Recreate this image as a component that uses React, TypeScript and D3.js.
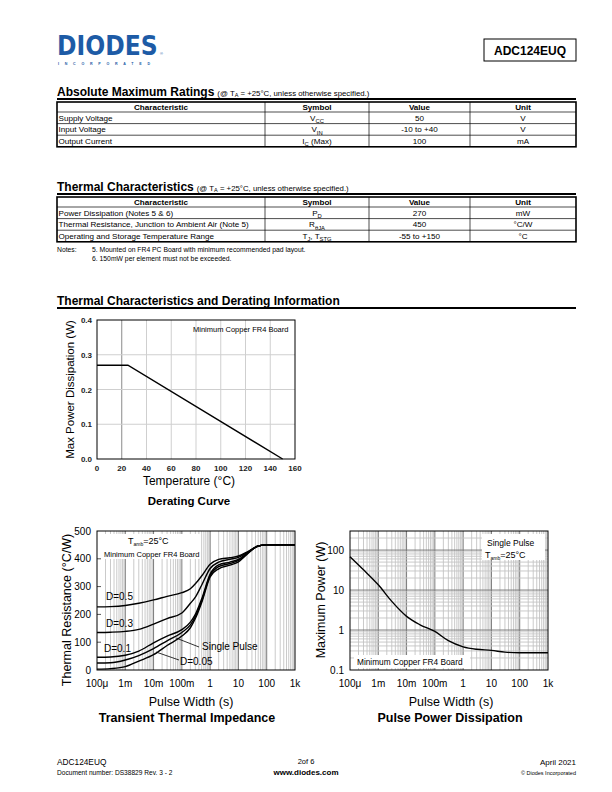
import React from 'react';
import * as d3 from 'd3';

const F = "'Liberation Sans', Arial, Helvetica, sans-serif";

type Seg = [string, boolean];

// ---------- Tables ----------
const tableHeaders = ['Characteristic', 'Symbol', 'Value', 'Unit'];
const absCharacteristics = ['Supply Voltage', 'Input Voltage', 'Output Current'];
const absSymbols: Seg[][] = [
  [['V', false], ['CC', true]],
  [['V', false], ['IN', true]],
  [['I', false], ['C', true], [' (Max)', false]],
];
const absValues = ['50', '-10 to +40', '100'];
const absUnits = ['V', 'V', 'mA'];

const thCharacteristics = [
  'Power Dissipation (Notes 5 & 6)',
  'Thermal Resistance, Junction to Ambient Air (Note 5)',
  'Operating and Storage Temperature Range',
];
const thSymbols: Seg[][] = [
  [['P', false], ['D', true]],
  [['R', false], ['θJA', true]],
  [['T', false], ['J', true], [', T', false], ['STG', true]],
];
const thValues = ['270', '450', '-55 to +150'];
const thUnits = ['mW', '°C/W', '°C'];

// ---------- Derating curve ----------
const deratingTemp = [0, 25, 150];
const deratingPower = [0.27, 0.27, 0];
const deratingXTicks = [0, 20, 40, 60, 80, 100, 120, 140, 160];
const deratingYTicks = [0, 0.1, 0.2, 0.3, 0.4];

// ---------- Transient thermal impedance ----------
const pulseWidths = [1e-4, 3e-4, 1e-3, 3e-3, 1e-2, 3e-2, 0.1, 0.2, 0.3, 0.5, 1, 2, 5, 10, 20, 50, 100, 1000];
const zthD05 = [227, 228, 232, 240, 252, 265, 278, 292, 310, 338, 380, 398, 404, 410, 424, 446, 450, 450];
const zthD03 = [135, 136, 139, 146, 165, 185, 205, 240, 262, 305, 365, 388, 398, 405, 422, 446, 450, 450];
const zthD01 = [46, 47, 53, 68, 98, 122, 145, 172, 200, 255, 345, 378, 388, 398, 420, 446, 450, 450];
const zthD005 = [25, 26, 36, 52, 77, 105, 135, 162, 192, 248, 340, 372, 383, 394, 418, 446, 450, 450];
const zthSingle = [3, 5, 12, 32, 55, 88, 122, 152, 185, 242, 335, 364, 377, 389, 416, 446, 450, 450];
const zthTicks = [0, 100, 200, 300, 400, 500];

const timeTickValues = [1e-4, 1e-3, 1e-2, 1e-1, 1, 10, 100, 1000];
const timeTickLabels = ['100μ', '1m', '10m', '100m', '1', '10', '100', '1k'];

// ---------- Pulse power dissipation ----------
const ppTimes = [1e-4, 3e-4, 1e-3, 3e-3, 1e-2, 3e-2, 0.1, 0.3, 1, 3, 10, 30, 100, 1000];
const ppPower = [68, 32, 13.5, 5.2, 2.2, 1.35, 0.92, 0.54, 0.38, 0.33, 0.31, 0.28, 0.27, 0.27];
const ppYTicks = [0.1, 1, 10, 100];
const ppYTickLabels = ['0.1', '1', '10', '100'];

// ---------- helpers ----------
function segText(s: Seg[], size: number) {
  let shifted = false;
  return s.map(([t, sub], i) => {
    let dy = 0;
    if (sub && !shifted) dy = size * 0.28;
    if (!sub && shifted) dy = -size * 0.28;
    shifted = sub;
    return (
      <tspan key={i} dy={dy} fontSize={sub ? size * 0.72 : size}>
        {t}
      </tspan>
    );
  });
}

function logMinors(lo: number, hi: number): number[] {
  const out: number[] = [];
  const e0 = Math.round(Math.log10(lo));
  const e1 = Math.round(Math.log10(hi));
  for (let e = e0; e < e1; e++) {
    for (let k = 2; k <= 9; k++) {
      const v = k * Math.pow(10, e);
      if (v > lo && v < hi) out.push(v);
    }
  }
  return out;
}

const colX = [57, 265, 369, 470, 576];

function Table({ top, chars, syms, vals, units }: { top: number; chars: string[]; syms: Seg[][]; vals: string[]; units: string[] }) {
  const hh = 10;
  const rh = 11.6;
  const bottom = top + hh + rh * chars.length;
  const fs = 8.1;
  const cx = (i: number) => (colX[i] + colX[i + 1]) / 2;
  return (
    <g fontFamily={F} fontSize={fs}>
      {tableHeaders.map((h, i) => (
        <text key={h} x={cx(i)} y={top + hh / 2 + 2.9} textAnchor="middle" fontWeight="bold">
          {h}
        </text>
      ))}
      {chars.map((c, r) => {
        const yc = top + hh + rh * r + rh / 2 + 2.9;
        return (
          <g key={c}>
            <text x={colX[0] + 1.5} y={yc}>{c}</text>
            <text x={cx(1)} y={yc} textAnchor="middle">{segText(syms[r], fs)}</text>
            <text x={cx(2)} y={yc} textAnchor="middle">{vals[r]}</text>
            <text x={cx(3)} y={yc} textAnchor="middle">{units[r]}</text>
          </g>
        );
      })}
      {chars.map((c, r) => (
        <line key={'h' + r} x1={colX[0]} x2={colX[4]} y1={top + hh + rh * r} y2={top + hh + rh * r} stroke="#000" strokeWidth={0.7} />
      ))}
      {colX.slice(1, 4).map((x) => (
        <line key={'v' + x} x1={x} x2={x} y1={top} y2={bottom} stroke="#000" strokeWidth={0.7} />
      ))}
      <rect x={colX[0]} y={top} width={colX[4] - colX[0]} height={bottom - top} fill="none" stroke="#000" strokeWidth={1.6} />
    </g>
  );
}

function SectionTitle({ y, title, sub }: { y: number; title: string; sub?: boolean }) {
  return (
    <g fontFamily={F}>
      <text x={57} y={y} fontSize={12} fontWeight="bold">
        {title}
        {sub && (
          <tspan fontSize={7.8} fontWeight="normal" dx={3}>
            (@ T<tspan fontSize={5.5} dy={1.5}>A</tspan>
            <tspan dy={-1.5}> = +25°C, unless otherwise specified.)</tspan>
          </tspan>
        )}
      </text>
      <line x1={57} x2={576} y1={y + 3.5} y2={y + 3.5} stroke="#000" strokeWidth={2.2} />
    </g>
  );
}

function Derating() {
  const L = 97, R = 295, T = 320, B = 459;
  const x = d3.scaleLinear().domain([0, 160]).range([L, R]);
  const y = d3.scaleLinear().domain([0, 0.4]).range([B, T]);
  const line = d3.line<number>().x((d, i) => x(deratingTemp[i])).y((d) => y(d));
  return (
    <g fontFamily={F}>
      {deratingXTicks.slice(1, -1).map((t) => (
        <line key={'gx' + t} x1={x(t)} x2={x(t)} y1={T} y2={B} stroke={t === 20 ? '#8a8a8a' : '#cfcfcf'} strokeWidth={1} />
      ))}
      {deratingYTicks.slice(1, -1).map((t) => (
        <line key={'gy' + t} x1={L} x2={R} y1={y(t)} y2={y(t)} stroke="#cfcfcf" strokeWidth={1} />
      ))}
      <rect x={L} y={T} width={R - L} height={B - T} fill="none" stroke="#000" strokeWidth={1} />
      <path d={line(deratingPower) || ''} fill="none" stroke="#000" strokeWidth={1.4} />
      {deratingXTicks.map((t) => (
        <text key={'tx' + t} x={x(t)} y={B + 12} textAnchor="middle" fontSize={8} fontWeight="bold" fill="#222">
          {t}
        </text>
      ))}
      {deratingYTicks.map((t) => (
        <text key={'ty' + t} x={L - 5} y={y(t) + 3} textAnchor="end" fontSize={8} fontWeight="bold" fill="#222">
          {t.toFixed(1)}
        </text>
      ))}
      <text x={193} y={332} fontSize={7.5}>Minimum Copper FR4 Board</text>
      <text transform={`translate(74,${(T + B) / 2}) rotate(-90)`} textAnchor="middle" fontSize={11.5}>
        Max Power Dissipation (W)
      </text>
      <text x={(L + R) / 2 - 7} y={485} textAnchor="middle" fontSize={12}>Temperature (°C)</text>
      <text x={189} y={505} textAnchor="middle" fontSize={11.5} fontWeight="bold">Derating Curve</text>
    </g>
  );
}

function VGrid({ x, T, B }: { x: d3.ScaleLogarithmic<number, number>; T: number; B: number }) {
  const minors = logMinors(1e-4, 1e3);
  return (
    <g>
      {minors.map((v, i) => (
        <line key={'m' + i} x1={x(v)} x2={x(v)} y1={T} y2={B} stroke="#c4c4c4" strokeWidth={0.9} />
      ))}
      {timeTickValues.slice(1, -1).map((v, i) => (
        <line key={'M' + i} x1={x(v)} x2={x(v)} y1={T} y2={B} stroke="#7a7a7a" strokeWidth={1} />
      ))}
    </g>
  );
}

function Transient() {
  const L = 97, R = 295, T = 531, B = 670;
  const x = d3.scaleLog().domain([1e-4, 1e3]).range([L, R]);
  const y = d3.scaleLinear().domain([0, 500]).range([B, T]);
  const mk = (vals: number[]) =>
    d3.line<number>().x((d, i) => x(pulseWidths[i])).y((d) => y(d)).curve(d3.curveMonotoneX)(vals) || '';
  const series = [zthD05, zthD03, zthD01, zthD005, zthSingle];
  return (
    <g fontFamily={F}>
      <VGrid x={x} T={T} B={B} />
      {zthTicks.slice(1, -1).map((t) => (
        <line key={'tk' + t} x1={L} x2={L + 4} y1={y(t)} y2={y(t)} stroke="#555" strokeWidth={1} />
      ))}
      <rect x={101} y={534} width={99} height={25} fill="#fff" />
      <text x={128} y={544} fontSize={9}>
        T<tspan fontSize={5} dy={2}>amb</tspan>
        <tspan dy={-2}>=25°C</tspan>
      </text>
      <text x={104} y={556.5} fontSize={7.5}>Minimum Copper FR4 Board</text>
      <rect x={L} y={T} width={R - L} height={B - T} fill="none" stroke="#000" strokeWidth={1} />
      {series.map((s, i) => (
        <path key={i} d={mk(s)} fill="none" stroke="#000" strokeWidth={1.4} />
      ))}
      <text x={106} y={599.5} fontSize={10}>D=0.5</text>
      <text x={106} y={627} fontSize={10}>D=0.3</text>
      <text x={104} y={651.5} fontSize={10}>D=0.1</text>
      <text x={180} y={665} fontSize={10}>D=0.05</text>
      <text x={202} y={650} fontSize={10}>Single Pulse</text>
      <line x1={199} y1={647} x2={176} y2={638} stroke="#000" strokeWidth={0.8} />
      <line x1={179} y1={660} x2={156} y2={652} stroke="#000" strokeWidth={0.8} />
      {zthTicks.map((t) => (
        <text key={'ty' + t} x={L - 6} y={y(t) + 3.5} textAnchor="end" fontSize={10}>
          {t}
        </text>
      ))}
      {timeTickValues.map((t, i) => (
        <text key={'tx' + i} x={x(t)} y={B + 17} textAnchor="middle" fontSize={10}>
          {timeTickLabels[i]}
        </text>
      ))}
      <text transform={`translate(71,610) rotate(-90)`} textAnchor="middle" fontSize={12.5}>
        Thermal Resistance (°C/W)
      </text>
      <text x={191} y={706} textAnchor="middle" fontSize={12.5}>Pulse Width (s)</text>
      <text x={187} y={722} textAnchor="middle" fontSize={12.5} fontWeight="bold">Transient Thermal Impedance</text>
    </g>
  );
}

function PulsePower() {
  const L = 350, R = 548, T = 531, B = 670;
  const x = d3.scaleLog().domain([1e-4, 1e3]).range([L, R]);
  const y = d3.scaleLog().domain([0.1, 300]).range([B, T]);
  const line = d3.line<number>().x((d, i) => x(ppTimes[i])).y((d) => y(d)).curve(d3.curveMonotoneX);
  const hMinors = logMinors(0.1, 1000).filter((v) => v < 300);
  return (
    <g fontFamily={F}>
      <VGrid x={x} T={T} B={B} />
      {hMinors.map((v, i) => (
        <line key={'hm' + i} x1={L} x2={R} y1={y(v)} y2={y(v)} stroke="#c4c4c4" strokeWidth={0.9} />
      ))}
      {[1, 10, 100].map((v) => (
        <line key={'hM' + v} x1={L} x2={R} y1={y(v)} y2={y(v)} stroke="#7a7a7a" strokeWidth={1} />
      ))}
      <rect x={482} y={534} width={63} height={26} fill="#fff" />
      <text x={487} y={546} fontSize={8.5}>Single Pulse</text>
      <text x={485} y={557.5} fontSize={9}>
        T<tspan fontSize={5} dy={2}>amb</tspan>
        <tspan dy={-2}>=25°C</tspan>
      </text>
      <rect x={354} y={655} width={116} height={13} fill="#fff" />
      <text x={357} y={665} fontSize={8.3}>Minimum Copper FR4 Board</text>
      <rect x={L} y={T} width={R - L} height={B - T} fill="none" stroke="#000" strokeWidth={1} />
      <path d={line(ppPower) || ''} fill="none" stroke="#000" strokeWidth={1.4} />
      {ppYTicks.map((t, i) => (
        <text key={'ty' + t} x={L - 6} y={y(t) + 3.5} textAnchor="end" fontSize={10}>
          {ppYTickLabels[i]}
        </text>
      ))}
      {timeTickValues.map((t, i) => (
        <text key={'tx' + i} x={x(t)} y={B + 17} textAnchor="middle" fontSize={10}>
          {timeTickLabels[i]}
        </text>
      ))}
      <text transform={`translate(325,600) rotate(-90)`} textAnchor="middle" fontSize={12.5}>
        Maximum Power (W)
      </text>
      <text x={451} y={706} textAnchor="middle" fontSize={12.5}>Pulse Width (s)</text>
      <text x={450} y={722} textAnchor="middle" fontSize={12.5} fontWeight="bold">Pulse Power Dissipation</text>
    </g>
  );
}

export default function App() {
  return (
    <svg width={612} height={792} style={{ position: 'absolute', left: 0, top: 0, background: '#fff' }}>
      <rect x={0} y={0} width={612} height={792} fill="#fff" />
      {/* header */}
      <g transform="translate(57,55) scale(0.87,1)">
        <text x={0} y={0} fontFamily="'DejaVu Sans', sans-serif" fontWeight="bold" fontSize={27} fill="#1d5ba6">
          DIODES
        </text>
      </g>
      <text x={160} y={55} fontFamily={F} fontSize={4} fill="#1d5ba6">®</text>
      <text x={58} y={64.5} fontFamily={F} fontSize={3.6} fontWeight="bold" fill="#1d5ba6" textLength={92} lengthAdjust="spacing">
        INCORPORATED
      </text>
      <rect x={484} y={39} width={92} height={22} fill="none" stroke="#000" strokeWidth={1} />
      <text x={530} y={54.5} textAnchor="middle" fontFamily={F} fontWeight="bold" fontSize={12}>ADC124EUQ</text>

      <SectionTitle y={95.5} title="Absolute Maximum Ratings" sub />
      <Table top={102} chars={absCharacteristics} syms={absSymbols} vals={absValues} units={absUnits} />

      <SectionTitle y={190.5} title="Thermal Characteristics" sub />
      <Table top={197} chars={thCharacteristics} syms={thSymbols} vals={thValues} units={thUnits} />

      <g fontFamily={F} fontSize={6.8}>
        <text x={57} y={251.5}>Notes:</text>
        <text x={92} y={251.5}>5. Mounted on FR4 PC Board with minimum recommended pad layout.</text>
        <text x={92} y={260.5}>6. 150mW per element must not be exceeded.</text>
      </g>

      <SectionTitle y={304.5} title="Thermal Characteristics and Derating Information" />

      <Derating />
      <Transient />
      <PulsePower />

      {/* footer */}
      <g fontFamily={F}>
        <text x={57} y={765} fontSize={8.3}>ADC124EUQ</text>
        <text x={57} y={775} fontSize={6.6}>Document number: DS38829 Rev. 3 - 2</text>
        <text x={306} y={764} fontSize={7.5} textAnchor="middle">2of 6</text>
        <text x={306} y={775} fontSize={8} fontWeight="bold" textAnchor="middle">www.diodes.com</text>
        <text x={576} y={765} fontSize={8} textAnchor="end">April 2021</text>
        <text x={576} y={775} fontSize={5.5} textAnchor="end">© Diodes Incorporated</text>
      </g>
    </svg>
  );
}
